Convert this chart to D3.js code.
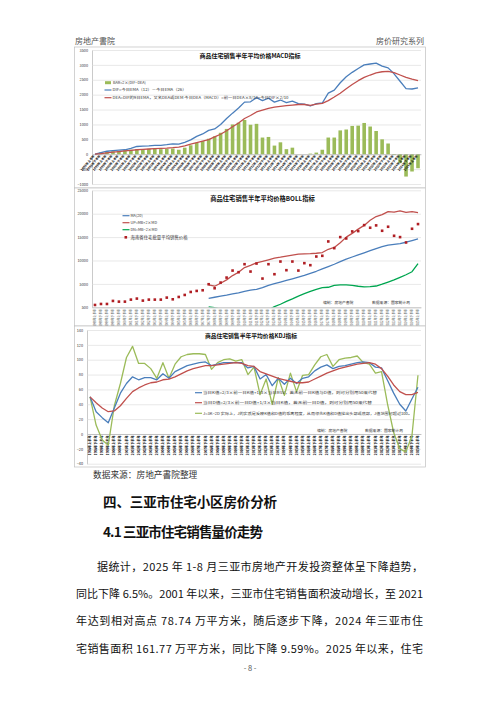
<!DOCTYPE html>
<html>
<head>
<meta charset="utf-8">
<script src="https://cdn.jsdelivr.net/npm/d3@7"></script>
<style>
  body { margin: 0; background: #fff; }
  svg { display: block; }
</style>
</head>
<body>
<svg id="page" width="500" height="707"></svg>
<script>
// half-year categories shared by all three charts
const categories = ["1998年上半年","1998年下半年","1999年上半年","1999年下半年","2000年上半年","2000年下半年",
    "2001年上半年","2001年下半年","2002年上半年","2002年下半年","2003年上半年","2003年下半年","2004年上半年",
    "2004年下半年","2005年上半年","2005年下半年","2006年上半年","2006年下半年","2007年上半年","2007年下半年",
    "2008年上半年","2008年下半年","2009年上半年","2009年下半年","2010年上半年","2010年下半年","2011年上半年",
    "2011年下半年","2012年上半年","2012年下半年","2013年上半年","2013年下半年","2014年上半年","2014年下半年",
    "2015年上半年","2015年下半年","2016年上半年","2016年下半年","2017年上半年","2017年下半年","2018年上半年",
    "2018年下半年","2019年上半年","2019年下半年","2020年上半年","2020年下半年","2021年上半年","2021年下半年",
    "2022年上半年","2022年下半年","2023年上半年","2023年下半年","2024年上半年","2024年下半年","2025年上半年"];

// MACD chart
const macdBar = [0, 60, 90, 100, 110, 130, 150, 170, 170, 180, 190, 170, 180, 190, 150, 220, 300, 380, 440, 520,
    600, 720, 850, 1000, 1060, 1150, 990, 1020, 560, 580, 290, 400, 170, 220, 0, 0, 20, 55, 150, 560,
    560, 800, 830, 950, 960, 1050, 930, 780, 500, 360, -20, -300, -750, -580, -470];
const macdDif = [0, 50, 100, 120, 135, 150, 200, 260, 270, 280, 300, 300, 320, 350, 340, 400, 480, 600, 680, 800,
    850, 1000, 1200, 1380, 1550, 1750, 1760, 1900, 1800, 1880, 1750, 1820, 1730, 1780, 1700, 1680, 1620, 1700, 1720, 2050,
    2150, 2400, 2600, 2750, 2880, 3000, 3030, 3060, 2960, 2900, 2700, 2450, 2200, 2190, 2230];
const macdDea = [0, 20, 45, 70, 90, 110, 130, 150, 165, 175, 185, 195, 205, 220, 240, 280, 340, 390, 440, 490,
    580, 670, 790, 920, 1050, 1200, 1300, 1420, 1480, 1540, 1580, 1610, 1630, 1650, 1670, 1670, 1640, 1680, 1710, 1800,
    1920, 2050, 2200, 2340, 2470, 2580, 2660, 2730, 2770, 2780, 2740, 2660, 2580, 2520, 2470];
const macdTicks = [-1000, -500, 0, 500, 1000, 1500, 2000, 2500, 3000, 3500];

// BOLL chart (bands start with the 20th half-year)
const bollPrice = [500, 710, 710, 1360, 1210, 1210, 1640, 1860, 1430, 1640, 1640, 1640, 2070, 1710, 2210, 2640, 3280, 3500, 3640, 4930,
    4070, 5280, 6350, 7850, 7500, 9210, 7640, 9350, 6140, 9210, 7070, 9780, 7930, 9780, 7850, 9430, 9000, 10850, 11000, 14070,
    12640, 15000, 14710, 16210, 16280, 17560, 17000, 17500, 16350, 17210, 15280, 15000, 13850, 16780, 17780];
const bollPad = new Array(19).fill(null);
const bollMid = bollPad.concat([1930, 2150, 2380, 2600, 2850, 3100, 3400, 3650, 3850, 4200, 4700, 5050, 5400, 5750, 6100, 6450,
    6800, 7250, 7700, 8200, 8700, 9200, 9750, 10300, 10750, 11200, 11650, 12100, 12550, 12950, 13300, 13450, 13600, 13900, 14250, 14600]);
const bollUp = bollPad.concat([4780, 4500, 5140, 5860, 6780, 7500, 8500, 8950, 9500, 9800, 10150, 10500, 10700, 10950, 11150, 11350,
    11420, 11450, 11550, 11700, 12400, 12800, 13800, 15000, 15800, 16700, 17500, 18600, 19400, 19800, 20450, 20350, 20600, 20300, 20450, 20250]);
const bollDn = bollPad.concat([80, -100, -400, -700, -1000, -1300, -1600, -1600, -1500, -1200, -600, 150, 650, 1250, 1800, 2400,
    2900, 3400, 3850, 4200, 4280, 4700, 4780, 4780, 4700, 4500, 4370, 4400, 4550, 4950, 5400, 5850, 6400, 6950, 7600, 9350]);
const bollTicks = [0, 5000, 10000, 15000, 20000, 25000];
const bollTickLabels = ["500", "5000", "10000", "15000", "20000", "25000"];

// KDJ chart
const kdjK = [50, 30, 22, 15, 35, 55, 68, 77, 73, 76, 76, 73, 81, 75, 84, 88, 92, 94, 96, 97,
    92, 94, 96, 96, 96, 96, 89, 91, 74, 80, 65, 75, 67, 75, 68, 75, 77, 85, 90, 93,
    88, 91, 92, 94, 96, 97, 96, 90, 89, 72, 55, 40, 31, 47, 63];
const kdjD = [50, 42, 35, 30, 31, 38, 48, 57, 62, 66, 69, 70, 73, 74, 77, 81, 85, 88, 90, 92,
    92, 93, 94, 95, 96, 95, 92, 91, 84, 81, 78, 75, 73, 71, 69, 69, 70, 74, 78, 82,
    85, 88, 90, 92, 94, 95, 96, 94, 88, 78, 66, 57, 53, 53, 56];
const kdjJ = [50, 12, -8, -15, 38, 68, 103, 118, 95, 95, 88, 75, 96, 75, 94, 104, 107, 108, 108, 107,
    87, 96, 100, 101, 98, 100, 80, 90, 53, 74, 40, 76, 52, 82, 57, 79, 80, 93, 104, 107,
    91, 100, 102, 103, 105, 96, 94, 82, 84, 40, 2, -20, -24, -3, 79];
const kdjTicks = [-40, -20, 0, 20, 40, 60, 80, 100, 120, 140];

const paragraph = [
    "据统计，2025 年 1-8 月三亚市房地产开发投资整体呈下降趋势，",
    "同比下降 6.5%。2001 年以来，三亚市住宅销售面积波动增长，至 2021",
    "年达到相对高点 78.74 万平方米，随后逐步下降，2024 年三亚市住",
    "宅销售面积 161.77 万平方米，同比下降 9.59%。2025 年以来，住宅"
];

const FONT = '"Noto Sans CJK SC", "Noto Sans", sans-serif';
const BLUE = "#4a7ebb", RED = "#c0504d", OLIVE = "#9bbb59", GREEN = "#00a650", DOT = "#b01e23";

const svg = d3.select("#page").attr("font-family", FONT);

// page header
svg.append("text").attr("x", 75).attr("y", 44).attr("font-size", 8).attr("fill", "#555").text("房地产書院");
svg.append("text").attr("x", 424).attr("y", 44).attr("font-size", 8).attr("fill", "#555")
    .attr("text-anchor", "end").text("房价研究系列");

function chartFrame(top, bottom) {
    svg.append("rect").attr("x", 74.5).attr("y", top).attr("width", 351).attr("height", bottom - top)
        .attr("fill", "#fff").attr("stroke", "#bfbfbf").attr("stroke-width", 0.7);
}

function chartTitle(cx, y, size, txt) {
    svg.append("text").attr("x", cx).attr("y", y).attr("text-anchor", "middle")
        .attr("font-size", size).attr("font-weight", "bold").attr("fill", "#111").text(txt);
}

// y axis with gridlines across the plot
function yAxis(y, ticks, left, right, fmt) {
    const ax = svg.append("g").attr("transform", `translate(${left},0)`)
        .call(d3.axisLeft(y).tickValues(ticks).tickSizeInner(-(right - left)).tickSizeOuter(0)
            .tickPadding(4).tickFormat(fmt));
    ax.select(".domain").attr("stroke", "#a6a6a6").attr("stroke-width", 0.6);
    ax.selectAll(".tick line").attr("stroke", "#d9d9d9").attr("stroke-width", 0.6);
    ax.selectAll(".tick text").attr("font-size", 3.8).attr("fill", "#333").attr("font-family", FONT);
}

// category axis at value 0, labels rotated
function xAxis(x, yPos, angle, bold) {
    const ax = svg.append("g").attr("transform", `translate(0,${yPos})`)
        .call(d3.axisBottom(x).tickSize(0).tickSizeOuter(0));
    ax.select(".domain").attr("stroke", "#a6a6a6").attr("stroke-width", 0.6);
    ax.selectAll(".tick text")
        .attr("font-size", bold ? 3.1 : 2.9).attr("font-family", FONT)
        .attr("font-weight", bold ? "bold" : "normal").attr("fill", bold ? "#000" : "#333")
        .attr("text-anchor", "end").attr("y", 0).attr("x", -1.5).attr("dy", "0.35em")
        .attr("transform", `rotate(${angle})`);
}

function drawLine(x, y, values, color, width, clip) {
    const line = d3.line()
        .defined(d => d != null)
        .x((d, i) => x(categories[i]) + x.bandwidth() / 2)
        .y(d => y(d));
    const p = svg.append("path").datum(values).attr("d", line)
        .attr("fill", "none").attr("stroke", color).attr("stroke-width", width)
        .attr("stroke-linejoin", "round");
    if (clip) p.attr("clip-path", clip);
}

function legendLine(x, y, color, txt, len) {
    svg.append("line").attr("x1", x).attr("x2", x + 7).attr("y1", y).attr("y2", y)
        .attr("stroke", color).attr("stroke-width", 1.2);
    const t = svg.append("text").attr("x", x + 8).attr("y", y + 1.3).attr("font-size", 3.8)
        .attr("fill", "#333").text(txt);
    if (len) t.attr("textLength", len).attr("lengthAdjust", "spacingAndGlyphs");
}

// ---------- MACD ----------
chartFrame(47, 188);
const x1 = d3.scaleBand().domain(categories).range([92, 421]);
const y1 = d3.scaleLinear().domain([-1000, 3500]).range([184, 50]);
yAxis(y1, macdTicks, 92, 421, d3.format("d"));

svg.append("g").selectAll("rect").data(macdBar).join("rect")
    .attr("x", (d, i) => x1(categories[i]) + x1.bandwidth() * 0.2)
    .attr("width", x1.bandwidth() * 0.6)
    .attr("y", d => y1(Math.max(0, d)))
    .attr("height", d => Math.abs(y1(d) - y1(0)))
    .attr("fill", OLIVE);

xAxis(x1, y1(0), -50, true);
drawLine(x1, y1, macdDif, BLUE, 1.3);
drawLine(x1, y1, macdDea, RED, 1.3);
chartTitle(250, 57.5, 6, "商品住宅销售半年平均价格MACD指标");

svg.append("rect").attr("x", 105).attr("y", 81.2).attr("width", 6).attr("height", 3).attr("fill", OLIVE);
svg.append("text").attr("x", 113).attr("y", 84).attr("font-size", 3.8).attr("fill", "#333").text("BAR=2×(DIF−DEA)");
legendLine(104.5, 90, BLUE, "DIF=今日EMA（12）－今日EMA（26）", 74);
legendLine(104.5, 97.7, RED, "DEA=DIF的9日EMA，又名DEA或DEM 今日DEA（MACD）=前一日DEA×8/10+今日DIF×2/10", 176);

// ---------- BOLL ----------
chartFrame(188, 326);
const x2 = d3.scaleBand().domain(categories).range([92, 421]);
const y2 = d3.scaleLinear().domain([0, 25000]).range([307.3, 190.3]);
yAxis(y2, bollTicks, 92, 421, (d, i) => bollTickLabels[i]);
xAxis(x2, y2(0), -90, false);

svg.append("clipPath").attr("id", "bollClip").append("rect")
    .attr("x", 92).attr("y", 190).attr("width", 329).attr("height", 117.3);
drawLine(x2, y2, bollMid, BLUE, 1.3, "url(#bollClip)");
drawLine(x2, y2, bollUp, RED, 1.3, "url(#bollClip)");
drawLine(x2, y2, bollDn, GREEN, 1.3, "url(#bollClip)");

svg.append("g").selectAll("rect").data(bollPrice).join("rect")
    .attr("x", (d, i) => x2(categories[i]) + x2.bandwidth() / 2 - 1.3)
    .attr("y", d => y2(d) - 1.3)
    .attr("width", 2.6).attr("height", 2.6)
    .attr("fill", DOT);

chartTitle(262.5, 200.5, 6.3, "商品住宅销售半年平均价格BOLL指标");
legendLine(122.5, 215.7, BLUE, "MA(20)");
legendLine(122.5, 222.7, RED, "UP=MB+2×MD");
legendLine(122.5, 229.7, GREEN, "DN=MB−2×MD");
svg.append("rect").attr("x", 124.5).attr("y", 236).attr("width", 2.6).attr("height", 2.6).attr("fill", DOT);
svg.append("text").attr("x", 130.5).attr("y", 238.7).attr("font-size", 4.4).attr("fill", "#333").text("海南省住宅批量平均销售价格");
svg.append("text").attr("x", 323).attr("y", 303.8).attr("font-size", 3.8).attr("fill", "#333").text("编制：房地产書院");
svg.append("text").attr("x", 372).attr("y", 303.8).attr("font-size", 3.8).attr("fill", "#333").text("数据来源：国家统计局");

// ---------- KDJ ----------
chartFrame(326, 467);
const x3 = d3.scaleBand().domain(categories).range([87, 421]);
const y3 = d3.scaleLinear().domain([-40, 140]).range([463.7, 330]);
yAxis(y3, kdjTicks, 87, 421, d3.format("d"));
xAxis(x3, y3(0), -90, true);
drawLine(x3, y3, kdjJ, OLIVE, 1.3);
drawLine(x3, y3, kdjK, BLUE, 1.3);
drawLine(x3, y3, kdjD, RED, 1.3);

chartTitle(251, 337.5, 5.8, "商品住宅销售半年平均价格KDJ指标");
legendLine(195, 392.7, BLUE, "当日K值=2/3×前一日K值+1/3×当日RSV，若无前一日K值与D值，则可分别用50来代替", 174);
legendLine(195, 402.7, RED, "当日D值=2/3×前一日D值+1/3×当日K值，若无前一日D值，则可分别用50来代替", 169);
legendLine(195, 413.3, OLIVE, "J=3K−2D 实际上，J的实质是反映K值和D值的乖离程度，从而领先K值和D值找出头部或底部，J值范围可超过100。", 209);
svg.append("text").attr("x", 317).attr("y", 431.5).attr("font-size", 3.8).attr("fill", "#333").text("编制：房地产書院");
svg.append("text").attr("x", 365).attr("y", 431.5).attr("font-size", 3.8).attr("fill", "#333").text("数据来源：国家统计局");

// ---------- text below the charts ----------
svg.append("text").attr("x", 93).attr("y", 477.5).attr("font-size", 8.7).attr("fill", "#333")
    .text("数据来源：房地产書院整理");
svg.append("text").attr("x", 103).attr("y", 506.5).attr("font-size", 13.5).attr("font-weight", "bold")
    .attr("fill", "#111").attr("textLength", 174).text("四、三亚市住宅小区房价分析");
svg.append("text").attr("x", 103).attr("y", 536.5).attr("font-size", 13.5).attr("font-weight", "bold")
    .attr("fill", "#111").attr("textLength", 160).text("4.1 三亚市住宅销售量价走势");

svg.append("g").selectAll("text").data(paragraph).join("text")
    .attr("x", (d, i) => i === 0 ? 97 : 76)
    .attr("y", (d, i) => 571 + i * 27.2)
    .attr("font-size", 11).attr("fill", "#111")
    .attr("textLength", (d, i) => i === 0 ? 326 : 347)
    .attr("lengthAdjust", "spacing")
    .text(d => d);

svg.append("text").attr("x", 250).attr("y", 671).attr("text-anchor", "middle")
    .attr("font-size", 7.5).attr("fill", "#555").text("- 8 -");
</script>
</body>
</html>
